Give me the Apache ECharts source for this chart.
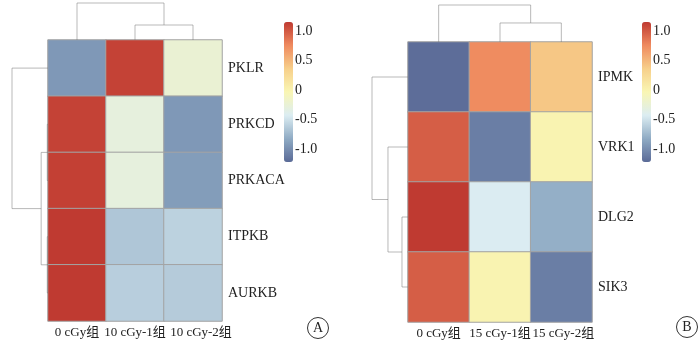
<!DOCTYPE html>
<html>
<head>
<meta charset="utf-8">
<script src="https://cdn.jsdelivr.net/npm/echarts@6/dist/echarts.min.js"></script>
<style>html,body{margin:0;padding:0;background:#fff}#c{width:700px;height:346px}</style>
</head>
<body>
<div id="c"></div>
<script>
// ---- data ----
const colsA = ['0 cGy组', '10 cGy-1组', '10 cGy-2组'];
const rowsA = ['PKLR', 'PRKCD', 'PRKACA', 'ITPKB', 'AURKB'];
const valuesA = [
  [-0.94, 1.12, -0.23],
  [1.12, -0.29, -0.94],
  [1.13, -0.29, -0.91],
  [1.16, -0.66, -0.59],
  [1.16, -0.61, -0.63]
];
const colsB = ['0 cGy组', '15 cGy-1组', '15 cGy-2组'];
const rowsB = ['IPMK', 'VRK1', 'DLG2', 'SIK3'];
const valuesB = [
  [-1.20, 0.75, 0.41],
  [0.98, -1.10, 0.00],
  [1.16, -0.43, -0.80],
  [0.98, 0.00, -1.10]
];
// dendrogram merges: [childA, childB, height]; leaves 0..n-1, clusters n, n+1, ...
const colMergesA = [[1, 2, 0.405], [0, 3, 1.0]];
const rowMergesA = [[1, 2, 0.02], [3, 4, 0.02], [5, 6, 0.19], [0, 7, 1.0]];
const colMergesB = [[1, 2, 0.514], [0, 3, 1.0]];
const rowMergesB = [[2, 3, 0.167], [1, 4, 0.556], [0, 5, 1.0]];
const legendTicks = [-1, -0.5, 0, 0.5, 1];
const legendMin = -1.22, legendMax = 1.16;
const palette = ['#5a6a97', '#8fabc4', '#dcedf2', '#f9f6b4', '#f7cf8a', '#ef8a5f', '#bf3a31'];

// ---- helpers ----
function heatData(vals) {
  const d = [];
  vals.forEach((row, r) => row.forEach((v, c) => d.push([c, r, v])));
  return d;
}
function dendro(merges, n, horizontal) {
  const pos = [], hgt = [];
  for (let i = 0; i < n; i++) { pos.push(i + 0.5); hgt.push(0); }
  const segs = [];
  merges.forEach(m => {
    const [a, b, h] = m;
    let pts = [[pos[a], hgt[a]], [pos[a], h], [pos[b], h], [pos[b], hgt[b]]];
    if (horizontal) pts = pts.map(p => [p[1], p[0]]);
    segs.push({ coords: pts });
    pos.push((pos[a] + pos[b]) / 2);
    hgt.push(h);
  });
  return segs;
}
const FONT = '"Liberation Serif", "Noto Sans CJK SC", serif';
const FS = 14;
const lineStyle = { color: '#747474', width: 1 };

const chart = echarts.init(document.getElementById('c'));
const hid = { show: false };
function valAxis(gi, min, max, inverse) {
  return { type: 'value', gridIndex: gi, min: min, max: max, inverse: !!inverse,
    axisLine: hid, axisTick: hid, axisLabel: hid, splitLine: hid };
}
function catX(gi, data, lastShift) {
  const items = data.map((name, i) => (i === data.length - 1 && lastShift)
    ? { value: name, textStyle: { padding: [0, 0, 0, lastShift] } } : name);
  return { type: 'category', gridIndex: gi, data: items, axisLine: hid, axisTick: hid, splitLine: hid,
    axisLabel: { interval: 0, hideOverlap: false, margin: 5, fontSize: 13, fontFamily: FONT, color: '#222' } };
}
function catY(gi, data) {
  return { type: 'category', gridIndex: gi, data: data, inverse: true, position: 'right',
    axisLine: hid, axisTick: hid, splitLine: hid,
    axisLabel: { interval: 0, margin: 6, fontSize: FS, fontFamily: FONT, color: '#222' } };
}
function legendAxis(gi) {
  return { type: 'value', gridIndex: gi, min: legendMin, max: legendMax, position: 'right',
    axisLine: hid, axisTick: hid, splitLine: hid,
    axisLabel: { show: true, customValues: legendTicks, margin: 2, fontSize: FS, fontFamily: FONT, color: '#222',
      formatter: v => (v === 0 ? '0' : v.toFixed(1)) } };
}

const option = {
  backgroundColor: '#fff',
  animation: false,
  grid: [
    { left: 48, top: 40, width: 174, height: 281 },   // 0 heat A
    { left: 48, top: 3, width: 174, height: 37 },     // 1 col dendro A
    { left: 12, top: 40, width: 36, height: 281 },    // 2 row dendro A
    { left: 284, top: 22, width: 9, height: 140 },    // 3 legend axis A
    { left: 408, top: 42, width: 184, height: 280 },  // 4 heat B
    { left: 408, top: 5, width: 184, height: 37 },    // 5 col dendro B
    { left: 372, top: 42, width: 36, height: 280 },   // 6 row dendro B
    { left: 642, top: 22, width: 9, height: 140 }     // 7 legend axis B
  ],
  xAxis: [
    catX(0, colsA, 16),
    valAxis(1, 0, colsA.length),
    valAxis(2, 0, 1, true),
    valAxis(3, 0, 1),
    catX(4, colsB, 4),
    valAxis(5, 0, colsB.length),
    valAxis(6, 0, 1, true),
    valAxis(7, 0, 1)
  ],
  yAxis: [
    catY(0, rowsA),
    valAxis(1, 0, 1),
    valAxis(2, 0, rowsA.length, true),
    legendAxis(3),
    catY(4, rowsB),
    valAxis(5, 0, 1),
    valAxis(6, 0, rowsB.length, true),
    legendAxis(7)
  ],
  visualMap: [
    { type: 'continuous', seriesIndex: 0, min: legendMin, max: legendMax, calculable: false,
      left: 284, top: 22, itemWidth: 9, itemHeight: 140, padding: 0, hoverLink: false,
      inRange: { color: palette } },
    { type: 'continuous', seriesIndex: 1, min: legendMin, max: legendMax, calculable: false,
      left: 642, top: 22, itemWidth: 9, itemHeight: 140, padding: 0, hoverLink: false,
      inRange: { color: palette } }
  ],
  series: [
    { type: 'heatmap', xAxisIndex: 0, yAxisIndex: 0, data: heatData(valuesA), silent: true,
      itemStyle: { borderColor: '#a3a3a3', borderWidth: 1 }, emphasis: { disabled: true } },
    { type: 'heatmap', xAxisIndex: 4, yAxisIndex: 4, data: heatData(valuesB), silent: true,
      itemStyle: { borderColor: '#a3a3a3', borderWidth: 1 }, emphasis: { disabled: true } },
    { type: 'lines', coordinateSystem: 'cartesian2d', xAxisIndex: 1, yAxisIndex: 1, polyline: true, clip: false,
      silent: true, lineStyle: lineStyle, data: dendro(colMergesA, colsA.length, false) },
    { type: 'lines', coordinateSystem: 'cartesian2d', xAxisIndex: 2, yAxisIndex: 2, polyline: true, clip: false,
      silent: true, lineStyle: lineStyle, data: dendro(rowMergesA, rowsA.length, true) },
    { type: 'lines', coordinateSystem: 'cartesian2d', xAxisIndex: 5, yAxisIndex: 5, polyline: true, clip: false,
      silent: true, lineStyle: lineStyle, data: dendro(colMergesB, colsB.length, false) },
    { type: 'lines', coordinateSystem: 'cartesian2d', xAxisIndex: 6, yAxisIndex: 6, polyline: true, clip: false,
      silent: true, lineStyle: lineStyle, data: dendro(rowMergesB, rowsB.length, true) }
  ],
  graphic: [
    { type: 'circle', shape: { cx: 318, cy: 328, r: 10.5 }, style: { fill: 'none', stroke: '#333', lineWidth: 1 }, silent: true },
    { type: 'text', x: 318, y: 328, silent: true,
      style: { text: 'A', textAlign: 'center', textVerticalAlign: 'middle', font: '14px "Liberation Serif", serif', fill: '#222' } },
    { type: 'circle', shape: { cx: 687, cy: 327, r: 10.5 }, style: { fill: 'none', stroke: '#333', lineWidth: 1 }, silent: true },
    { type: 'text', x: 687, y: 327, silent: true,
      style: { text: 'B', textAlign: 'center', textVerticalAlign: 'middle', font: '14px "Liberation Serif", serif', fill: '#222' } }
  ]
};
chart.setOption(option);
</script>
</body>
</html>
